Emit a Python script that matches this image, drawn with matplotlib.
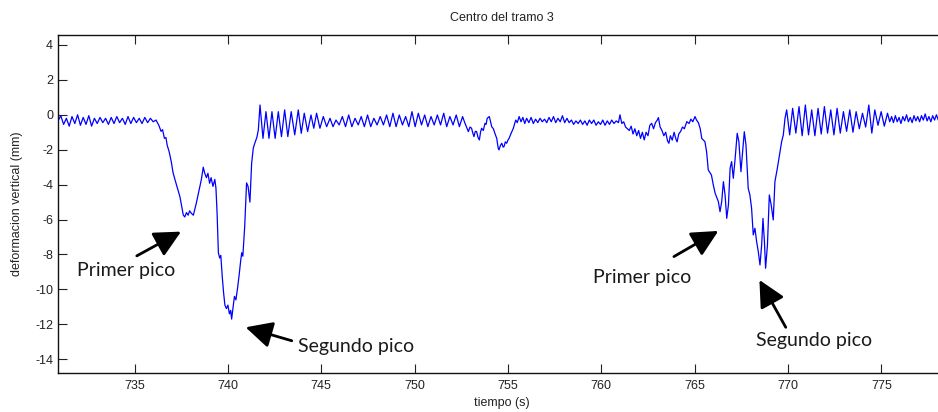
import numpy as np
import matplotlib
matplotlib.use("Agg")
import matplotlib.pyplot as plt

plt.rcParams["font.family"] = ["Liberation Sans", "DejaVu Sans"]
plt.rcParams["axes.unicode_minus"] = False

# ---- measured vertical deflection at mid-span 3: (time [s], deflection [mm]) ----
quiet_start = [
    (730.9, -0.35), (731.05, -0.05), (731.2, -0.55), (731.35, -0.2), (731.5, -0.65),
    (731.65, -0.1), (731.8, -0.5), (731.95, 0.0), (732.1, -0.6), (732.25, -0.15),
    (732.4, -0.55), (732.55, -0.05), (732.7, -0.65), (732.85, -0.2), (733.0, -0.5),
    (733.15, -0.15), (733.3, -0.45), (733.45, -0.2), (733.6, -0.55), (733.75, -0.15),
    (733.9, -0.5), (734.05, -0.1), (734.2, -0.45), (734.35, -0.2), (734.5, -0.55),
    (734.65, -0.1), (734.8, -0.5), (734.95, -0.15), (735.1, -0.45), (735.25, -0.2),
    (735.4, -0.5), (735.55, -0.15), (735.7, -0.45), (735.85, -0.2), (736.0, -0.4),
    (736.15, -0.3),
]

first_passage = [
    (736.3, -0.6), (736.42, -0.95), (736.5, -0.85), (736.6, -1.35), (736.68, -1.3),
    (736.75, -1.75), (736.85, -2.1), (736.97, -2.7), (737.06, -3.3), (737.17, -3.73),
    (737.3, -4.2), (737.43, -4.69), (737.52, -5.2), (737.61, -5.74), (737.69, -5.85),
    (737.78, -5.6), (737.87, -5.75), (737.95, -5.5), (738.05, -5.65), (738.15, -5.75),
    (738.22, -5.45), (738.3, -5.1), (738.4, -4.6), (738.5, -4.11), (738.58, -3.7),
    (738.68, -3.0), (738.76, -3.35), (738.85, -3.6), (738.93, -3.35), (739.02, -3.92),
    (739.1, -3.6), (739.2, -4.1), (739.3, -3.7), (739.36, -4.2), (739.42, -5.6),
    (739.49, -7.9), (739.56, -8.2), (739.62, -8.05), (739.7, -9.3), (739.77, -10.2),
    (739.84, -10.9), (739.92, -11.1), (740.0, -10.9), (740.08, -11.4), (740.15, -11.2),
    (740.2, -11.7), (740.27, -11.1), (740.35, -10.4), (740.43, -10.6), (740.52, -9.9),
    (740.6, -9.2), (740.68, -8.4), (740.74, -7.9), (740.8, -8.1), (740.9, -6.4),
    (741.0, -3.9), (741.08, -4.1), (741.18, -5.0), (741.27, -2.8), (741.36, -1.9),
    (741.45, -1.6), (741.55, -1.3), (741.63, -0.87),
]

# free vibration after the first passage: crests and troughs
free_vib1_crest_t = [741.72, 742.04, 742.36, 742.70, 743.04, 743.39, 743.77, 744.09,
                     744.45, 744.75, 745.11, 745.47, 745.79, 746.13, 746.47, 746.81,
                     747.14, 747.48, 747.82, 748.16, 748.50, 748.84, 749.18, 749.52,
                     749.86, 750.20, 750.54, 750.88, 751.22, 751.56, 751.89, 752.23,
                     752.57]
free_vib1_crest_y = [0.56, 0.18, 0.18, 0.18, 0.28, 0.18, 0.28, 0.09, -0.01, 0.09, -0.1,
                     -0.2, -0.3, -0.1, -0.01, -0.2, -0.1, -0.01, -0.2, -0.1, -0.01, 0.09,
                     -0.01, -0.1, 0.18, 0.09, -0.01, -0.1, -0.01, 0.09, -0.1, -0.01, -0.1]
free_vib1_trough_t = [741.88, 742.2, 742.53, 742.87, 743.21, 743.58, 743.93, 744.27,
                      744.6, 744.93, 745.29, 745.63, 745.96, 746.3, 746.64, 746.98,
                      747.31, 747.65, 747.99, 748.33, 748.67, 749.01, 749.35, 749.69,
                      750.03, 750.37, 750.71, 751.05, 751.39, 751.72, 752.06, 752.4]
free_vib1_trough_y = [-1.35, -1.35, -1.35, -1.25, -1.25, -1.15, -1.06, -0.96, -0.77,
                      -0.77, -0.68, -0.68, -0.58, -0.68, -0.68, -0.58, -0.68, -0.68,
                      -0.58, -0.58, -0.68, -0.68, -0.58, -0.68, -0.68, -0.58, -0.68,
                      -0.58, -0.58, -0.68, -0.58, -0.68]

small_dip = [
    (752.7, -0.49), (752.8, -0.75), (752.88, -0.96), (752.97, -0.7), (753.05, -0.77),
    (753.12, -1.05), (753.18, -1.25), (753.25, -0.95), (753.32, -0.96), (753.4, -1.3),
    (753.47, -1.44), (753.53, -1.0), (753.59, -0.77), (753.68, -0.9), (753.77, -0.49),
    (753.83, -0.55), (753.89, -0.2), (754.0, -0.1), (754.06, -0.35), (754.13, -0.68),
    (754.22, -0.8), (754.3, -1.06), (754.4, -1.35), (754.48, -1.92), (754.52, -2.01),
    (754.6, -1.75), (754.67, -1.63), (754.74, -1.85), (754.79, -1.82), (754.86, -1.55),
    (754.93, -1.63), (755.0, -1.45), (755.06, -1.35), (755.17, -1.06), (755.29, -0.77),
    (755.36, -0.5), (755.42, -0.3),
]

quiet_middle = [
    (755.5, -0.45), (755.6, -0.1), (755.7, -0.4), (755.8, -0.15), (755.9, -0.5),
    (756.0, -0.2), (756.12, -0.45), (756.24, -0.15), (756.36, -0.5), (756.48, -0.25),
    (756.6, -0.45), (756.72, -0.2), (756.84, -0.4), (756.96, -0.25), (757.08, -0.45),
    (757.2, -0.15), (757.32, -0.4), (757.44, -0.1), (757.56, -0.45), (757.68, -0.2),
    (757.8, -0.4), (757.92, -0.05), (758.04, -0.45), (758.16, -0.2), (758.28, -0.45),
    (758.4, -0.3), (758.52, -0.55), (758.64, -0.35), (758.76, -0.5), (758.88, -0.3),
    (759.0, -0.55), (759.12, -0.35), (759.24, -0.6), (759.36, -0.3), (759.48, -0.5),
    (759.6, -0.3), (759.72, -0.6), (759.84, -0.4), (759.96, -0.55), (760.08, -0.3),
    (760.2, -0.6), (760.32, -0.35), (760.44, -0.55), (760.56, -0.3), (760.68, -0.5),
    (760.8, -0.35), (760.92, -0.45), (761.0, 0.0), (761.1, -0.5), (761.2, -0.4),
    (761.3, -0.7), (761.4, -0.8),
]

second_approach = [
    (761.5, -0.9), (761.6, -0.65), (761.7, -1.1), (761.8, -0.8), (761.9, -1.2),
    (762.0, -0.9), (762.1, -1.35), (762.2, -1.0), (762.3, -1.44), (762.4, -1.0),
    (762.5, -1.2), (762.6, -0.6), (762.7, -0.49), (762.8, -0.8), (762.9, -0.45),
    (763.0, -0.3), (763.06, -0.16), (763.15, -0.7), (763.25, -0.9), (763.35, -1.2),
    (763.45, -1.0), (763.55, -1.5), (763.62, -1.63), (763.7, -1.2), (763.8, -1.45),
    (763.9, -1.0), (764.0, -1.4), (764.06, -1.55), (764.15, -1.1), (764.25, -0.95),
    (764.35, -0.7), (764.45, -0.8), (764.58, -0.39), (764.7, -0.5), (764.8, -0.25),
    (764.9, -0.4), (765.02, -0.1), (765.1, -0.3), (765.2, -0.45), (765.3, -0.8),
    (765.38, -1.35),
]

second_passage = [
    (765.46, -1.44), (765.55, -1.54), (765.64, -2.11), (765.73, -3.16), (765.9, -3.45),
    (766.0, -4.02), (766.1, -4.5), (766.27, -4.97), (766.36, -5.55), (766.45, -4.97),
    (766.54, -3.83), (766.63, -4.59), (766.72, -5.93), (766.81, -5.16), (766.9, -3.06),
    (766.98, -2.68), (767.07, -3.64), (767.17, -2.49), (767.28, -1.06), (767.37, -1.54),
    (767.48, -3.26), (767.57, -2.11), (767.66, -0.97), (767.75, -1.73), (767.87, -4.21),
    (767.96, -4.59), (768.05, -5.35), (768.14, -6.88), (768.23, -6.5), (768.32, -7.26),
    (768.41, -7.84), (768.5, -8.6), (768.59, -7.45), (768.66, -5.93), (768.74, -7.3),
    (768.8, -8.79), (768.9, -7.45), (769.0, -4.59), (769.1, -5.16), (769.21, -6.02),
    (769.3, -3.83), (769.43, -3.06), (769.57, -2.11), (769.66, -1.54), (769.75, -1.15),
    (769.84, -0.2),
]

# free vibration after the second passage
free_vib2_crest_t = [769.93, 770.25, 770.59, 770.93, 771.27, 771.61, 771.95, 772.29,
                     772.63, 772.97, 773.31, 773.65, 773.99, 774.33, 774.65, 774.99,
                     775.33]
free_vib2_crest_y = [0.28, 0.37, 0.47, 0.56, 0.28, 0.37, 0.47, 0.28, 0.37, 0.18, 0.28,
                     0.18, 0.09, 0.56, 0.28, 0.18, 0.09]
free_vib2_trough_t = [770.09, 770.42, 770.76, 771.1, 771.44, 771.78, 772.12, 772.46,
                      772.8, 773.14, 773.48, 773.82, 774.16, 774.49, 774.82, 775.16]
free_vib2_trough_y = [-1.15, -1.05, -1.2, -1.15, -1.2, -1.1, -1.05, -1.15, -1.05, -0.95,
                      -1.0, -0.8, -0.7, -1.05, -0.6, -0.65]

quiet_end = [
    (775.45, -0.4), (775.55, -0.1), (775.65, -0.45), (775.75, -0.05), (775.85, -0.4),
    (775.95, -0.15), (776.05, -0.5), (776.15, -0.1), (776.25, -0.35), (776.35, 0.0),
    (776.45, -0.4), (776.55, -0.15), (776.65, -0.45), (776.75, -0.05), (776.85, -0.35),
    (776.95, -0.1), (777.05, -0.4), (777.15, -0.05), (777.25, -0.3), (777.35, 0.05),
    (777.45, -0.35), (777.55, -0.1), (777.65, -0.4), (777.75, -0.05), (777.85, -0.3),
    (777.95, 0.0), (778.05, -0.3), (778.15, -0.05), (778.25, -0.25), (778.4, -0.1),
]

x_ticks = [735, 740, 745, 750, 755, 760, 765, 770, 775]
y_ticks = [4, 2, 0, -2, -4, -6, -8, -10, -12, -14]

title_text = "Centro del tramo 3"
x_label = "tiempo (s)"
y_label = "deformacion vertical (mm)"

# annotation: (label, text anchor (t, y), arrow tail (t, y), arrow tip (t, y))
peak_notes = [
    ("Primer pico", (731.93, -9.21), (735.12, -8.08), (737.49, -6.69)),
    ("Segundo pico", (743.77, -13.6), (743.42, -12.94), (740.95, -12.17)),
    ("Primer pico", (759.56, -9.65), (763.89, -8.12), (766.27, -6.65)),
    ("Segundo pico", (768.29, -13.24), (769.88, -12.17), (768.47, -9.46)),
]


def interleave(t_a, y_a, t_b, y_b):
    t = np.concatenate([t_a, t_b])
    y = np.concatenate([y_a, y_b])
    order = np.argsort(t)
    return list(zip(t[order], y[order]))


series = (quiet_start + first_passage
          + interleave(free_vib1_crest_t, free_vib1_crest_y,
                       free_vib1_trough_t, free_vib1_trough_y)
          + small_dip + quiet_middle + second_approach + second_passage
          + interleave(free_vib2_crest_t, free_vib2_crest_y,
                       free_vib2_trough_t, free_vib2_trough_y)
          + quiet_end)
time_s = np.array([p[0] for p in series])
defl_mm = np.array([p[1] for p in series])

W, H = 938, 412
fig = plt.figure(figsize=(W / 100, H / 100), dpi=100)
ax = fig.add_axes([58 / W, 39.3 / H, 887 / W, 337.7 / H])

ax.plot(time_s, defl_mm, color=(0, 0, 1), lw=0.9, solid_joinstyle="round")

ax.set_xlim(730.9, 778.41)
ax.set_ylim(-14.77, 4.57)
ax.set_xticks(x_ticks)
ax.set_yticks(y_ticks)
ax.set_xticklabels([str(v) for v in x_ticks])
ax.set_yticklabels([str(v) for v in y_ticks])

ax.tick_params(axis="both", direction="in", length=6.2, width=0.8, colors="#222222",
               labelsize=9, top=True, right=False)
ax.tick_params(axis="x", pad=5)
ax.tick_params(axis="y", pad=3.5)
for side in ("left", "bottom", "top"):
    ax.spines[side].set_linewidth(1.0)
    ax.spines[side].set_color("#111111")
ax.spines["right"].set_visible(False)

ax.set_xlabel(x_label, fontsize=9, color="#222222")
ax.xaxis.set_label_coords(0.5, -0.072)
ax.set_ylabel(y_label, fontsize=9, color="#222222")
ax.yaxis.set_label_coords(-0.0395, 0.5)
fig.text(501.7 / W, 1 - 18 / H, title_text, ha="center", va="center", fontsize=9,
         color="#222222")

for label, txt_xy, tail, tip in peak_notes:
    ax.text(txt_xy[0], txt_xy[1], label, family=["Lato", "DejaVu Sans"], fontsize=14,
            ha="left", va="baseline", color="#1a1a1a")
    ax.annotate("", xy=tip, xytext=tail,
                arrowprops=dict(arrowstyle="-|>,head_length=0.9,head_width=0.45",
                                color="black", lw=2.0, shrinkA=0, shrinkB=0,
                                mutation_scale=18))

fig.savefig("out.png", dpi=100)
